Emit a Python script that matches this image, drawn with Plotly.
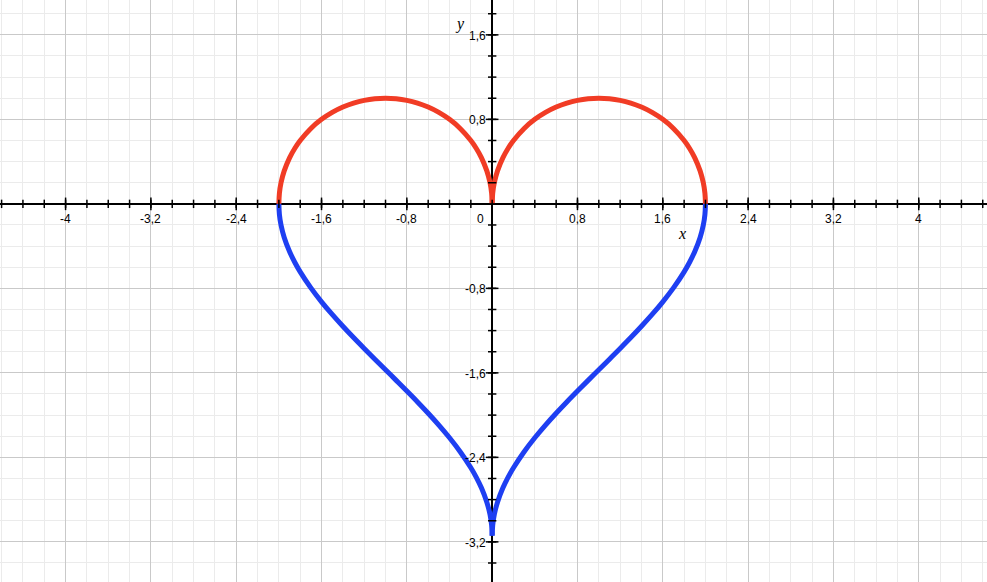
import plotly.graph_objects as go

# right half sample points (left half is its mirror image)
x_half = [0.0, 0.005, 0.02, 0.05, 0.1, 0.15, 0.2, 0.3, 0.4, 0.5, 0.6, 0.7, 0.8, 0.9, 1.0,
          1.1, 1.2, 1.3, 1.4, 1.5, 1.6, 1.7, 1.8, 1.85, 1.9, 1.95, 1.98, 1.995, 2.0]
y_top = [0.0, 0.0999, 0.199, 0.3122, 0.4359, 0.5268, 0.6, 0.7141, 0.8, 0.866, 0.9165, 0.9539,
         0.9798, 0.995, 1.0, 0.995, 0.9798, 0.9539, 0.9165, 0.866, 0.8, 0.7141, 0.6, 0.5268,
         0.4359, 0.3122, 0.199, 0.0999, 0.0]
y_bottom = [-3.1416, -3.0416, -2.9413, -2.824, -2.6906, -2.5868, -2.4981, -2.3462, -2.2143,
            -2.0944, -1.9823, -1.8755, -1.7722, -1.671, -1.5708, -1.4706, -1.3694, -1.2661,
            -1.1593, -1.0472, -0.9273, -0.7954, -0.6435, -0.5548, -0.451, -0.3176, -0.2003,
            -0.1, 0.0]

x_tick_vals = [-4, -3.2, -2.4, -1.6, -0.8, 0.8, 1.6, 2.4, 3.2, 4]
x_tick_text = ["-4", "-3,2", "-2,4", "-1,6", "-0,8", "0,8", "1,6", "2,4", "3,2", "4"]
y_tick_vals = [1.6, 0.8, -0.8, -1.6, -2.4, -3.2]
y_tick_text = ["1,6", "0,8", "-0,8", "-1,6", "-2,4", "-3,2"]
minor_x = [round(-4.6 + 0.2 * i, 2) for i in range(47)]
minor_y = [round(-3.6 + 0.2 * i, 2) for i in range(28)]

RED = "#f13c25"
BLUE = "#1e3ff2"

fig = go.Figure()
x_left = [-v for v in x_half]
for xs, ys, c in [(x_half, y_top, RED), (x_left, y_top, RED),
                  (x_half, y_bottom, BLUE), (x_left, y_bottom, BLUE)]:
    fig.add_trace(go.Scatter(x=xs, y=ys, mode="lines", line=dict(color=c, width=5, shape="spline"),
                             hoverinfo="skip", showlegend=False))

# axis tick marks
fig.add_trace(go.Scatter(x=minor_x, y=[0] * len(minor_x), mode="markers",
                         marker=dict(symbol="line-ns", size=6, line=dict(color="black", width=1.5)),
                         showlegend=False, hoverinfo="skip"))
fig.add_trace(go.Scatter(x=x_tick_vals, y=[0] * len(x_tick_vals), mode="markers",
                         marker=dict(symbol="line-ns", size=9, line=dict(color="black", width=1.5)),
                         showlegend=False, hoverinfo="skip"))
fig.add_trace(go.Scatter(x=[0] * len(minor_y), y=minor_y, mode="markers",
                         marker=dict(symbol="line-ew", size=6, line=dict(color="black", width=1.5)),
                         showlegend=False, hoverinfo="skip"))
fig.add_trace(go.Scatter(x=[0] * len(y_tick_vals), y=y_tick_vals, mode="markers",
                         marker=dict(symbol="line-ew", size=9, line=dict(color="black", width=1.5)),
                         showlegend=False, hoverinfo="skip"))

font = dict(family="Liberation Sans, Arial", size=12, color="black")
ann = []
for v, t in zip(x_tick_vals, x_tick_text):
    ann.append(dict(x=v, y=0, text=t, showarrow=False, yanchor="top", xanchor="center",
                    yshift=-6, font=font))
for v, t in zip(y_tick_vals, y_tick_text):
    ann.append(dict(x=0, y=v, text=t, showarrow=False, xanchor="right", yanchor="middle",
                    xshift=-4, yshift=-1, font=font))
ann.append(dict(x=0, y=0, text="0", showarrow=False, xanchor="right", yanchor="top",
                xshift=-6, yshift=-6, font=font))
axfont = dict(family="Liberation Serif, DejaVu Serif", size=16, color="black")
ann.append(dict(x=-0.3, y=1.7, text="<i>y</i>", showarrow=False, font=axfont))
ann.append(dict(x=1.78, y=-0.28, text="<i>x</i>", showarrow=False, font=axfont))

fig.update_layout(
    width=987, height=582, margin=dict(l=0, r=0, t=0, b=0),
    plot_bgcolor="white", paper_bgcolor="white",
    annotations=ann,
    xaxis=dict(range=[-4.615, 4.64], dtick=0.8, tick0=0, showticklabels=False,
               showgrid=True, gridcolor="#c9c9c9", gridwidth=1,
               minor=dict(dtick=0.2, tick0=0, showgrid=True, gridcolor="#ebebeb", gridwidth=1),
               zeroline=True, zerolinecolor="black", zerolinewidth=1.5, fixedrange=True),
    yaxis=dict(range=[-3.58, 1.93], dtick=0.8, tick0=0, showticklabels=False,
               showgrid=True, gridcolor="#c9c9c9", gridwidth=1,
               minor=dict(dtick=0.2, tick0=0, showgrid=True, gridcolor="#ebebeb", gridwidth=1),
               zeroline=True, zerolinecolor="black", zerolinewidth=1.5, fixedrange=True),
)
fig.write_html("out.html", config={"displayModeBar": False},
               post_script="document.body.style.margin='0px';")
